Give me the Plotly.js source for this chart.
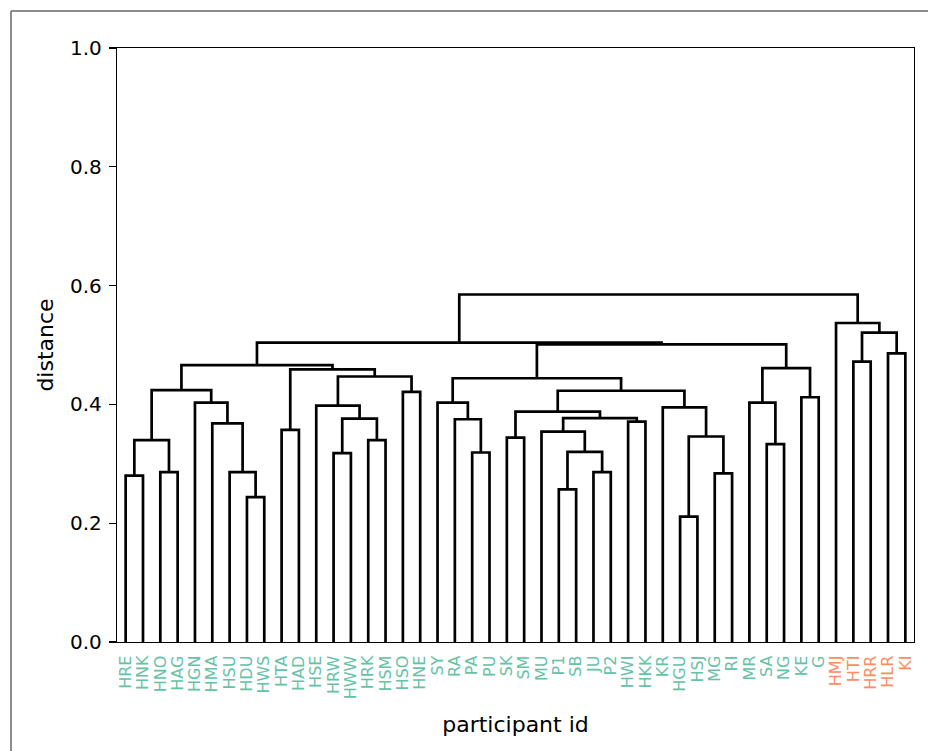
<!DOCTYPE html>
<html>
<head>
<meta charset="utf-8">
<script src="https://cdn.plot.ly/plotly-3.0.1.min.js"></script>
<style>html,body{margin:0;padding:0;background:#fff;}#chart{width:928px;height:751px;}</style>
</head>
<body>
<div id="chart"></div>
<script>
// Leaf labels in dendrogram order
const leafLabels = ["HRE","HNK","HNO","HAG","HGN","HMA","HSU","HDU","HWS","HTA","HAD","HSE","HRW","HWW","HRK","HSM","HSO","HNE","SY","RA","PA","PU","SK","SM","MU","P1","SB","JU","P2","HWI","HKK","KR","HGU","HSJ","MG","RI","MR","SA","NG","KE","G","HMJ","HTI","HRR","HLR","KI"];
// Group of each leaf (0 = green group, 1 = orange group)
const leafGroup = [0,0,0,0,0,0,0,0,0,0,0,0,0,0,0,0,0,0,0,0,0,0,0,0,0,0,0,0,0,0,0,0,0,0,0,0,0,0,0,0,0,1,1,1,1,1];
const groupColors = ["#66c2a5","#fc8d62"];

// Merges: [childA, childB, distance]; children < 46 are leaves, >= 46 are earlier merges (46 + k)
const mergeLeft   = [0, 2, 46, 7, 6, 5, 4, 48, 9, 12, 14, 55, 11, 16, 58, 54, 53, 20, 19, 18, 22, 25, 27, 67, 24, 29, 70, 66, 32, 34, 74, 31, 73, 65, 37, 36, 39, 81, 79, 62, 42, 44, 86, 41, 85];
const mergeRight  = [1, 3, 47, 8, 49, 50, 51, 52, 10, 13, 15, 56, 57, 17, 59, 60, 61, 21, 63, 64, 23, 26, 28, 68, 69, 30, 71, 72, 33, 35, 75, 76, 77, 78, 38, 80, 40, 82, 83, 84, 43, 45, 87, 88, 89];
const mergeHeight = [0.280, 0.286, 0.340, 0.244, 0.286, 0.368, 0.403, 0.424, 0.357, 0.318, 0.340, 0.376, 0.398, 0.421, 0.447, 0.459, 0.466, 0.319, 0.375, 0.403, 0.344, 0.257, 0.286, 0.320, 0.354, 0.371, 0.377, 0.388, 0.211, 0.284, 0.346, 0.395, 0.423, 0.444, 0.333, 0.403, 0.412, 0.461, 0.501, 0.504, 0.472, 0.486, 0.521, 0.537, 0.585];

const n = leafLabels.length;
const nodeX = [], nodeY = [];
for (let i = 0; i < n; i++) { nodeX.push(10 * i + 5); nodeY.push(0); }
const xs = [], ys = [];
for (let k = 0; k < mergeHeight.length; k++) {
  const a = mergeLeft[k], b = mergeRight[k], h = mergeHeight[k];
  xs.push(nodeX[a], nodeX[a], nodeX[b], nodeX[b], null);
  ys.push(nodeY[a], h, h, nodeY[b], null);
  nodeX.push((nodeX[a] + nodeX[b]) / 2);
  nodeY.push(h);
}

const tickVals = leafLabels.map((_, i) => 10 * i + 5);
const tickText = leafLabels.map((l, i) => '<span style="color:' + groupColors[leafGroup[i]] + '">' + l + '</span>');

const trace = {
  x: xs, y: ys, type: 'scatter', mode: 'lines',
  line: {color: '#000000', width: 2.7}, hoverinfo: 'skip', connectgaps: false
};

const font = {family: 'DejaVu Sans, sans-serif', color: '#000'};
const layout = {
  width: 928, height: 751,
  margin: {l: 117, r: 14, t: 48, b: 109},
  paper_bgcolor: '#fff', plot_bgcolor: '#fff',
  showlegend: false,
  font: font,
  xaxis: {
    range: [0, 10 * n], showgrid: false, zeroline: false,
    showline: true, mirror: true, linecolor: '#000', linewidth: 1.2,
    tickmode: 'array', tickvals: tickVals, ticktext: tickText,
    ticks: '', tickangle: -90, tickfont: {family: 'DejaVu Sans, sans-serif', size: 16},
    ticklabelstandoff: 6,
    title: {text: 'participant id', font: {family: 'DejaVu Sans, sans-serif', size: 22, color: '#000'}, standoff: 18},
    automargin: false
  },
  yaxis: {
    range: [0, 1], showgrid: false, zeroline: false,
    showline: true, mirror: true, linecolor: '#000', linewidth: 1.2,
    tickmode: 'array', tickvals: [0, 0.2, 0.4, 0.6, 0.8, 1.0],
    ticktext: ['0.0','0.2','0.4','0.6','0.8','1.0'],
    ticks: 'outside', ticklen: 7, tickwidth: 1.2, tickcolor: '#000',
    tickfont: {family: 'DejaVu Sans, sans-serif', size: 20, color: '#000'},
    ticklabelstandoff: 3,
    title: {text: 'distance', font: {family: 'DejaVu Sans, sans-serif', size: 22, color: '#000'}, standoff: 10},
    automargin: false
  },
  shapes: [
    {type: 'line', xref: 'paper', yref: 'paper', x0: -0.133, x1: 1.02, y0: 1.0623, y1: 1.0623, line: {color: '#666', width: 1.5}},
    {type: 'line', xref: 'paper', yref: 'paper', x0: -0.133, x1: -0.133, y0: 1.0623, y1: -0.19, line: {color: '#666', width: 1.5}}
  ]
};

Plotly.newPlot('chart', [trace], layout, {displayModeBar: false, staticPlot: true});
</script>
</body>
</html>
